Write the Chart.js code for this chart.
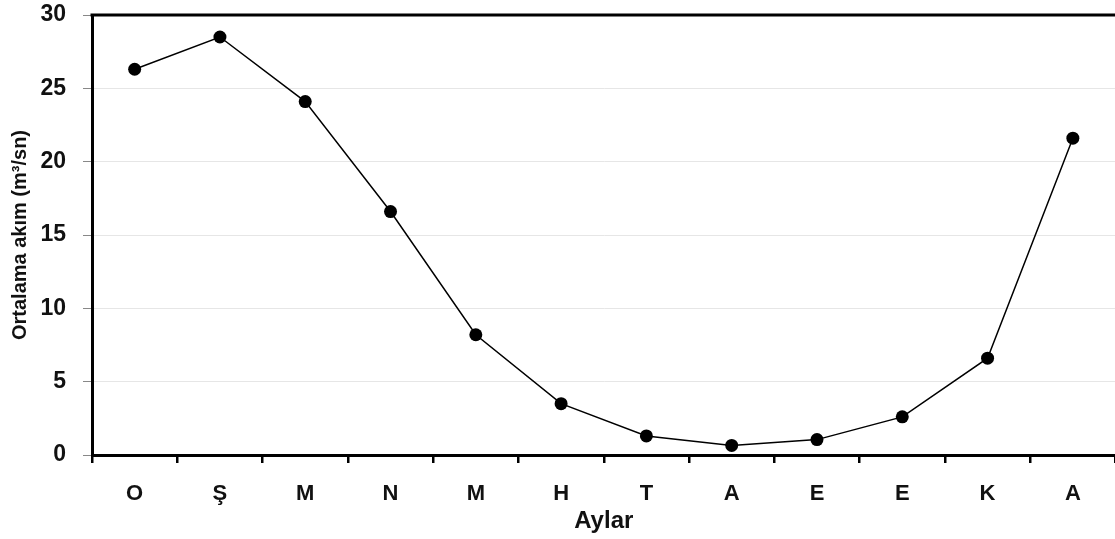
<!DOCTYPE html>
<html>
<head>
<meta charset="utf-8">
<script src="https://cdn.jsdelivr.net/npm/chart.js@4.4.1/dist/chart.umd.min.js"></script>
<style>
    html, body { margin: 0; padding: 0; background: #fff; overflow: hidden; }
    #wrap { width: 1122px; height: 539px; }
</style>
</head>
<body>
<div id="wrap"><canvas id="flowChart" width="1122" height="539"></canvas></div>
<script>
// Monthly mean flow, water year order
const months = ['O', 'Ş', 'M', 'N', 'M', 'H', 'T', 'A', 'E', 'E', 'K', 'A'];
const meanFlow = [26.3, 28.5, 24.1, 16.6, 8.2, 3.5, 1.3, 0.65, 1.05, 2.6, 6.6, 21.6];
const yTicks = [0, 5, 10, 15, 20, 25, 30];

// Top frame line (Chart.js has no top border for a single x axis)
const topFrame = {
    id: 'topFrame',
    afterDraw(chart) {
        const { ctx, chartArea } = chart;
        ctx.save();
        ctx.strokeStyle = '#000';
        ctx.lineWidth = 3;
        ctx.beginPath();
        ctx.moveTo(chartArea.left - 1.5, chartArea.top);
        ctx.lineTo(chartArea.right, chartArea.top);
        ctx.stroke();
        ctx.restore();
    }
};

const ctx = document.getElementById('flowChart');
const fontFamily = 'Liberation Sans, Arial, sans-serif';

new Chart(ctx, {
    type: 'line',
    data: {
        labels: months,
        datasets: [{
            label: 'Ortalama akım',
            data: meanFlow,
            borderColor: '#000',
            borderWidth: 1.5,
            backgroundColor: '#000',
            pointBackgroundColor: '#000',
            pointBorderColor: '#000',
            pointRadius: 6.5,
            pointBorderWidth: 0,
            tension: 0,
            fill: false
        }]
    },
    options: {
        responsive: false,
        animation: false,
        layout: {
            padding: { top: 15, right: 2, left: 0, bottom: 0 }
        },
        plugins: {
            legend: { display: false },
            tooltip: { enabled: false }
        },
        scales: {
            x: {
                type: 'category',
                offset: true,
                afterFit: function(scale) { scale.height = 84; },
                border: { color: '#000', width: 3 },
                grid: {
                    offset: true,
                    drawOnChartArea: false,
                    drawTicks: true,
                    tickLength: 8,
                    tickColor: '#000',
                    lineWidth: 2.5
                },
                ticks: {
                    color: '#111',
                    padding: 18,
                    maxRotation: 0,
                    font: { family: fontFamily, size: 22, weight: 'bold' }
                },
                title: {
                    display: true,
                    text: 'Aylar',
                    color: '#111',
                    padding: { top: 0, bottom: 3 },
                    font: { family: fontFamily, size: 24, weight: 'bold' }
                }
            },
            y: {
                min: 0,
                max: 30,
                afterFit: function(scale) {
                    scale.width = 92;
                    // tick padding would otherwise push the plot area down
                    scale.paddingTop = 10;
                    scale.paddingBottom = 10;
                },
                afterBuildTicks: function(scale) {
                    scale.ticks = yTicks.map(v => ({ value: v }));
                },
                border: { color: '#000', width: 3 },
                grid: {
                    color: '#e6e6e6',
                    lineWidth: 1,
                    drawTicks: true,
                    tickLength: 9,
                    tickColor: '#888'
                },
                ticks: {
                    color: '#111',
                    padding: 17,
                    font: { family: fontFamily, size: 23, weight: 'bold' }
                },
                title: {
                    display: true,
                    text: 'Ortalama akım (m³/sn)',
                    color: '#111',
                    padding: { top: 8, bottom: 0 },
                    font: { family: fontFamily, size: 20, weight: 'bold' }
                }
            }
        }
    },
    plugins: [topFrame]
});
</script>
</body>
</html>
